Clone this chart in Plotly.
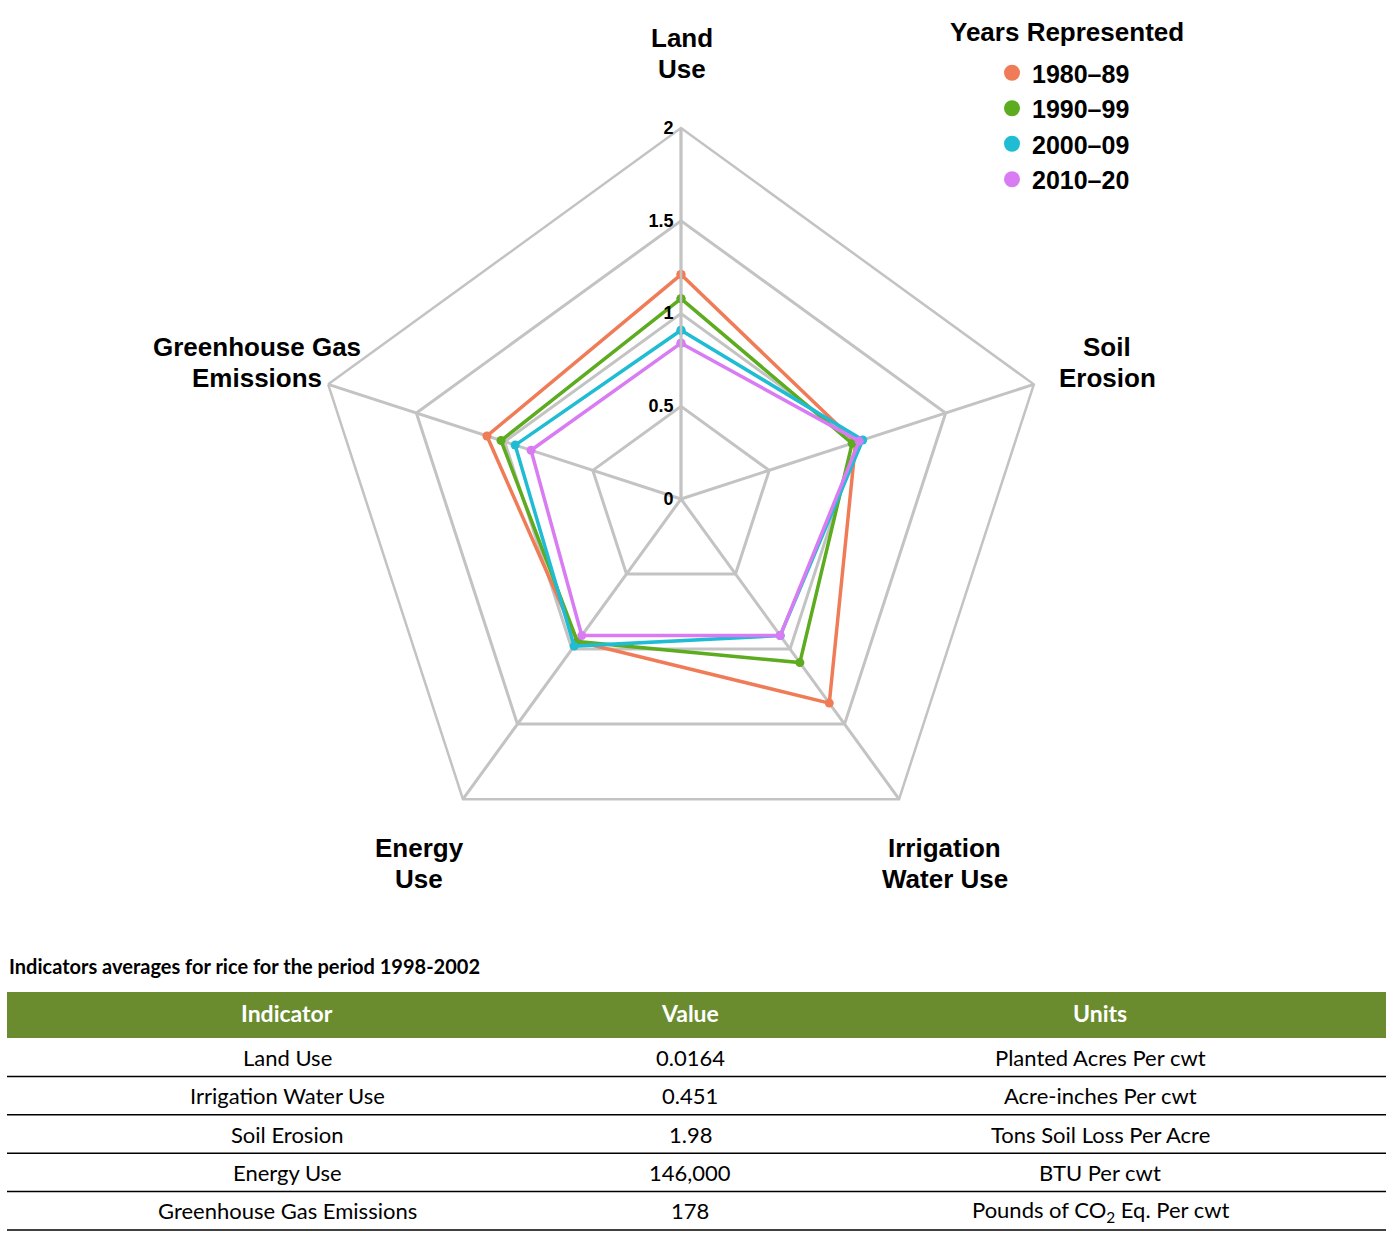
import plotly.graph_objects as go

W, H = 1394, 1240

# ---------------- data ----------------
axes_labels = ["Land Use", "Soil Erosion", "Irrigation Water Use", "Energy Use", "Greenhouse Gas Emissions"]
axes_display = [["Land", "Use"], ["Soil", "Erosion"], ["Irrigation", "Water Use"], ["Energy", "Use"],
                ["Greenhouse Gas", "Emissions"]]
series_names = ["1980\u201389", "1990\u201399", "2000\u201309", "2010\u201320"]
v1980 = [1.21, 0.99, 1.36, 0.95, 1.10]
v1990 = [1.08, 0.97, 1.09, 0.95, 1.02]
v2000 = [0.91, 1.03, 0.91, 0.98, 0.94]
v2010 = [0.84, 1.01, 0.91, 0.91, 0.85]
series_values = [v1980, v1990, v2000, v2010]
series_colors = ["#f07c57", "#5dab1f", "#1fbcd3", "#d97cf3"]
radial_ticks = [0, 0.5, 1, 1.5, 2]

table_title = "Indicators averages for rice for the period 1998-2002"
table_header = ["Indicator", "Value", "Units"]
table_indicator = ["Land Use", "Irrigation Water Use", "Soil Erosion", "Energy Use", "Greenhouse Gas Emissions"]
table_value = ["0.0164", "0.451", "1.98", "146,000", "178"]
table_units = ["Planted Acres Per cwt", "Acre-inches Per cwt", "Tons Soil Loss Per Acre",
               "BTU Per cwt", "Pounds of CO<sub>2</sub> Eq. Per cwt"]


def px(x):
    return x / W


def py(y):
    return 1 - y / H


fig = go.Figure()

for name, vals, col in zip(series_names, series_values, series_colors):
    fig.add_trace(go.Scatterpolar(
        r=vals + [vals[0]],
        theta=axes_labels + [axes_labels[0]],
        mode="lines+markers",
        line=dict(color=col, width=3.5),
        marker=dict(color=col, size=9),
        name=name,
        showlegend=False,
    ))
# legend entries (dots only)
for name, col in zip(series_names, series_colors):
    fig.add_trace(go.Scatterpolar(
        r=[None], theta=[axes_labels[0]], mode="markers",
        marker=dict(color=col, size=16), name=name, showlegend=True,
    ))

grid_col = "#c3c3c3"
cx, cy, R = 681, 499, 371
fig.update_layout(
    width=W, height=H,
    margin=dict(l=0, r=0, t=0, b=0),
    paper_bgcolor="white",
    plot_bgcolor="white",
    font=dict(family="Liberation Sans, Arial, sans-serif", color="black"),
    polar=dict(
        domain=dict(x=[px(cx - R), px(cx + R)], y=[py(cy + R), py(cy - R)]),
        gridshape="linear",
        bgcolor="white",
        angularaxis=dict(
            direction="clockwise", rotation=90,
            showticklabels=False, ticks="",
            gridcolor=grid_col, gridwidth=2.5,
            showline=True, linecolor=grid_col, linewidth=2.5,
        ),
        radialaxis=dict(
            range=[0, 2], tickvals=radial_ticks, ticktext=[str(t) for t in radial_ticks],
            angle=90, tickangle=90, ticks="",
            showline=True, linecolor=grid_col, linewidth=2.5,
            gridcolor=grid_col, gridwidth=2.5,
            tickfont=dict(size=18, color="black", weight="bold"),
            side="counterclockwise",
        ),
    ),
    legend=dict(
        x=px(992), y=py(50), xanchor="left", yanchor="top",
        font=dict(size=25, weight="bold", color="black"),
        itemsizing="trace", tracegroupgap=0,
        bgcolor="rgba(0,0,0,0)",
    ),
)

annotations = []
annotations.append(dict(text="Years Represented", x=px(1067), y=py(32), xref="paper", yref="paper",
                        showarrow=False, xanchor="center", yanchor="middle",
                        font=dict(size=26, weight="bold", color="black")))

label_pos = [(682, 38), (1107, 347), (945, 848), (419, 848), (257, 347)]
for lines, (lx, ly) in zip(axes_display, label_pos):
    for k, line in enumerate(lines):
        annotations.append(dict(text=line, x=px(lx), y=py(ly + 31 * k), xref="paper", yref="paper",
                                showarrow=False, xanchor="center", yanchor="middle",
                                font=dict(size=26, weight="bold", color="black")))

# ---------------- table ----------------
tfont = "Lato, Open Sans, sans-serif"
annotations.append(dict(text="<b>" + table_title + "</b>", x=px(7), y=py(966), xref="paper", yref="paper",
                        showarrow=False, xanchor="left", yanchor="middle",
                        font=dict(size=20, family=tfont, color="black")))

tx0, tx1 = 7, 1386
col_centers = [287, 690, 1100]
hdr_top, hdr_bot = 992, 1038
row_h = 38.4
shapes = [dict(type="rect", xref="paper", yref="paper",
               x0=px(tx0), x1=px(tx1), y0=py(hdr_bot), y1=py(hdr_top),
               fillcolor="#6b8c2e", line=dict(width=0), layer="below")]
for cxc, h in zip(col_centers, table_header):
    annotations.append(dict(text="<b>" + h + "</b>", x=px(cxc), y=py((hdr_top + hdr_bot) / 2 - 2),
                            xref="paper", yref="paper", showarrow=False,
                            xanchor="center", yanchor="middle",
                            font=dict(size=23, family=tfont, color="white")))
rows = list(zip(table_indicator, table_value, table_units))
for i, row in enumerate(rows):
    yb = hdr_bot + (i + 1) * row_h
    ymid = yb - row_h / 2
    for cxc, cell in zip(col_centers, row):
        annotations.append(dict(text=cell, x=px(cxc), y=py(ymid), xref="paper", yref="paper",
                                showarrow=False, xanchor="center", yanchor="middle",
                                font=dict(size=22, family=tfont, color="black")))
    shapes.append(dict(type="line", xref="paper", yref="paper",
                       x0=px(tx0), x1=px(tx1), y0=py(yb), y1=py(yb),
                       line=dict(color="black", width=1.5)))

fig.update_layout(annotations=annotations, shapes=shapes)
fig.write_html("out.html")
